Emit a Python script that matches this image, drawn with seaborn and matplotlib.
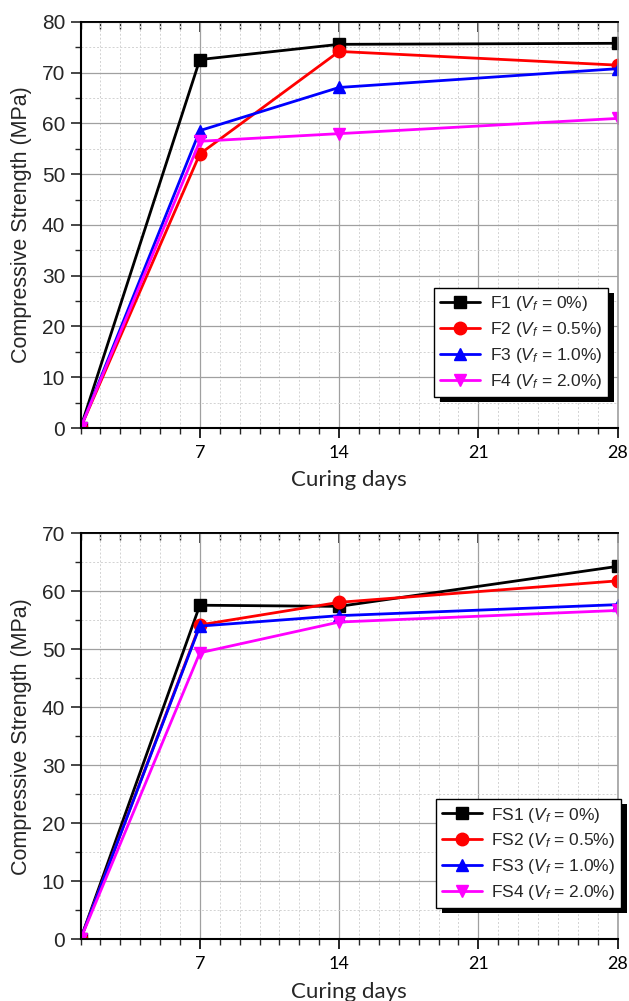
import numpy as np
import pandas as pd
import matplotlib
matplotlib.use("Agg")
import matplotlib.pyplot as plt
import seaborn as sns
from matplotlib.patches import Rectangle
from matplotlib.lines import Line2D
from matplotlib.ticker import MultipleLocator

# ---------------- data ----------------
days = [1, 7, 14, 28]
vf_labels = ["0%", "0.5%", "1.0%", "2.0%"]

top_names = ["F1", "F2", "F3", "F4"]
f1 = [0, 72.6, 75.6, 75.8]
f2 = [0, 54.0, 74.2, 71.5]
f3 = [0, 58.6, 67.1, 70.8]
f4 = [0, 56.5, 58.0, 61.0]

bot_names = ["FS1", "FS2", "FS3", "FS4"]
fs1 = [0, 57.6, 57.4, 64.3]
fs2 = [0, 54.2, 58.1, 61.8]
fs3 = [0, 54.0, 55.8, 57.7]
fs4 = [0, 49.4, 54.7, 56.7]

top_ylim = (0, 80)
bot_ylim = (0, 70)

colors = ["#000000", "#ff0000", "#0000ff", "#ff00ff"]
marker_list = ["s", "o", "^", "v"]

# ---------------- style ----------------
sns.set_style("white")
plt.rcParams["font.family"] = ["Liberation Sans", "DejaVu Sans"]
plt.rcParams["mathtext.fontset"] = "custom"
plt.rcParams["mathtext.rm"] = "Liberation Sans"
plt.rcParams["mathtext.it"] = "Liberation Sans:italic"

fig = plt.figure(figsize=(6.29, 10.01), dpi=100)
ax_l, ax_w = 80.5 / 629, (617.5 - 80.5) / 629
ax_top = fig.add_axes([ax_l, 1 - 428 / 1001, ax_w, 406 / 1001])
ax_bot = fig.add_axes([ax_l, 1 - 939.3 / 1001, ax_w, 406 / 1001])


def long_df(names, series):
    rows = []
    for n, vals in zip(names, series):
        for d, v in zip(days, vals):
            rows.append({"day": d, "strength": v, "series": n})
    return pd.DataFrame(rows)


def draw(ax, names, series, ylim, legend_anchor):
    df = long_df(names, series)
    pal = dict(zip(names, colors))
    mk = dict(zip(names, marker_list))
    sns.lineplot(data=df, x="day", y="strength", hue="series", style="series",
                 hue_order=names, style_order=names, palette=pal, markers=mk,
                 dashes=False, legend=False, ax=ax, lw=2.0, markersize=9)
    for ln in ax.lines:
        ln.set_markeredgecolor(ln.get_color())
        ln.set_markeredgewidth(1)

    ax.set_xlim(1, 28)
    ax.set_ylim(*ylim)
    ax.xaxis.set_major_locator(MultipleLocator(7))
    ax.xaxis.set_minor_locator(MultipleLocator(1))
    ax.yaxis.set_major_locator(MultipleLocator(10))
    ax.yaxis.set_minor_locator(MultipleLocator(5))

    ax.grid(which="major", color="#a0a0a0", lw=0.9, ls="-")
    ax.grid(which="minor", color="#d2d2d2", lw=0.7, ls=(0, (2, 2)))
    ax.set_axisbelow(True)

    ax.tick_params(axis="x", which="major", direction="out", length=7, width=1.2,
                   pad=5, labelsize=13, bottom=True, colors="black")
    ax.tick_params(axis="x", which="minor", direction="out", length=4, width=1.0,
                   bottom=True)
    ax.tick_params(axis="y", which="major", direction="out", length=7, width=1.2,
                   pad=4, labelsize=15, left=True)
    ax.tick_params(axis="y", which="minor", direction="out", length=4, width=1.0,
                   left=True)
    for lab in ax.get_xticklabels():
        lab.set_fontfamily("Lato")
    for lab in ax.get_yticklabels():
        lab.set_fontfamily("Liberation Sans")

    sec = ax.secondary_xaxis("top")
    sec.xaxis.set_major_locator(MultipleLocator(7))
    sec.xaxis.set_minor_locator(MultipleLocator(1))
    sec.tick_params(which="both", direction="in", labeltop=False, top=True)
    sec.tick_params(which="major", length=7, width=1.2)
    sec.tick_params(which="minor", length=5, width=1.0)
    sec.spines["top"].set_linewidth(1.3)
    sec.spines["top"].set_color("black")

    for s in ["left", "bottom"]:
        ax.spines[s].set_color("black")
        ax.spines[s].set_linewidth(1.5)
    ax.spines["top"].set_color("black")
    ax.spines["top"].set_linewidth(1.3)
    ax.spines["right"].set_color("#a0a0a0")
    ax.spines["right"].set_linewidth(1.2)

    ax.set_xlabel("Curing days", fontsize=16, family="Lato", labelpad=7)
    ax.set_ylabel("Compressive Strength (MPa)", fontsize=15.5, labelpad=7,
                  family="Liberation Sans")

    handles = [Line2D([], [], color=c, marker=m, lw=2.0, markersize=9,
                      markeredgecolor=c) for c, m in zip(colors, marker_list)]
    labels = [f"{n} ($V_f$ = {v})" for n, v in zip(names, vf_labels)]
    leg = ax.legend(handles, labels, loc="lower right", bbox_to_anchor=legend_anchor,
                    fontsize=12.5, frameon=True, fancybox=False, framealpha=1,
                    edgecolor="black", handlelength=2.3, handletextpad=0.55,
                    labelspacing=0.4, borderpad=0.35, borderaxespad=0)
    leg.get_frame().set_linewidth(1.0)
    leg.set_zorder(10)
    return leg


leg1 = draw(ax_top, top_names, [f1, f2, f3, f4], top_ylim, (0.983, 0.076))
leg2 = draw(ax_bot, bot_names, [fs1, fs2, fs3, fs4], bot_ylim, (1.007, 0.076))

fig.canvas.draw()
for ax, leg in [(ax_top, leg1), (ax_bot, leg2)]:
    bb = leg.get_frame().get_window_extent()
    bba = bb.transformed(ax.transAxes.inverted())
    axbb = ax.get_window_extent()
    dx = 6 / axbb.width
    dy = 5 / axbb.height
    sh = Rectangle((bba.x0 + dx, bba.y0 - dy), bba.width, bba.height,
                   transform=ax.transAxes, facecolor="black", edgecolor="none",
                   zorder=9, clip_on=False)
    ax.add_patch(sh)

fig.savefig("out.png", dpi=100)
